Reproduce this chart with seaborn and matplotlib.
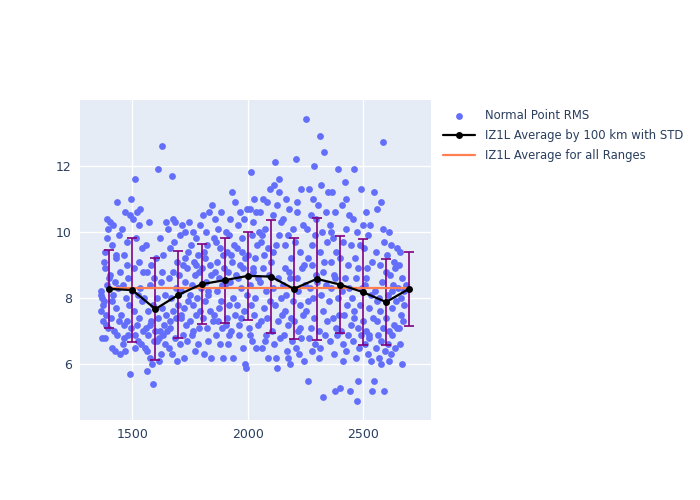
import numpy as np
import pandas as pd
import matplotlib
matplotlib.use('Agg')
import matplotlib.pyplot as plt
import seaborn as sns

# Normal point RMS values (range in km)
x_pts = [
    1362, 1365, 1368, 1370, 1372, 1375, 1378, 1380, 1383, 1385, 1388, 1390, 1392, 1395, 1398, 1366, 1374, 1382, 1386, 1394,
    1402, 1405, 1408, 1410, 1413, 1415, 1418, 1420, 1423, 1425, 1428, 1430, 1433, 1435, 1438, 1440, 1443, 1446, 1448, 1412, 1427,
    1452, 1455, 1458, 1460, 1463, 1465, 1468, 1470, 1473, 1475, 1478, 1480, 1483, 1485, 1488, 1490, 1493, 1495, 1498, 1462, 1476,
    1502, 1505, 1508, 1510, 1513, 1515, 1518, 1520, 1523, 1525, 1528, 1530, 1533, 1535, 1538, 1540, 1543, 1546, 1548, 1512, 1527,
    1552, 1555, 1558, 1560, 1563, 1565, 1568, 1570, 1573, 1575, 1578, 1580, 1583, 1585, 1588, 1590, 1593, 1595, 1598, 1562, 1577,
    1602, 1605, 1608, 1611, 1613, 1615, 1618, 1620, 1623, 1625, 1628, 1629, 1633, 1635, 1638, 1640, 1643, 1646, 1648, 1616, 1627,
    1652, 1655, 1658, 1660, 1663, 1665, 1668, 1670, 1673, 1675, 1678, 1680, 1683, 1685, 1688, 1690, 1693, 1695, 1698, 1662, 1677,
    1702, 1705, 1708, 1710, 1713, 1715, 1718, 1720, 1723, 1725, 1728, 1730, 1733, 1735, 1738, 1740, 1743, 1746, 1748, 1712, 1727,
    1752, 1755, 1758, 1760, 1763, 1765, 1768, 1770, 1773, 1775, 1778, 1780, 1783, 1785, 1788, 1790, 1793, 1795, 1798, 1762, 1777,
    1802, 1805, 1808, 1810, 1813, 1815, 1818, 1820, 1823, 1825, 1828, 1830, 1833, 1835, 1838, 1840, 1843, 1846, 1848, 1812, 1827,
    1852, 1855, 1858, 1860, 1863, 1865, 1868, 1870, 1873, 1875, 1878, 1880, 1883, 1885, 1888, 1890, 1893, 1895, 1898, 1862, 1877,
    1902, 1905, 1908, 1910, 1913, 1915, 1918, 1920, 1923, 1925, 1928, 1930, 1933, 1935, 1938, 1940, 1943, 1946, 1948, 1912, 1927, 1918,
    1952, 1955, 1958, 1960, 1963, 1965, 1968, 1970, 1973, 1975, 1978, 1980, 1983, 1985, 1988, 1990, 1992, 1995, 1998, 1962, 1977,
    2002, 2005, 2008, 2010, 2013, 2015, 2018, 2020, 2023, 2025, 2028, 2030, 2033, 2035, 2038, 2040, 2043, 2046, 2048, 2012, 2027, 2022,
    2052, 2055, 2058, 2060, 2063, 2065, 2068, 2070, 2073, 2075, 2078, 2080, 2083, 2085, 2088, 2090, 2093, 2095, 2098, 2062, 2077,
    2102, 2105, 2108, 2110, 2113, 2115, 2118, 2120, 2123, 2125, 2128, 2130, 2133, 2135, 2138, 2140, 2143, 2146, 2148, 2112, 2127, 2137,
    2152, 2155, 2158, 2160, 2163, 2165, 2168, 2170, 2173, 2175, 2178, 2180, 2183, 2185, 2188, 2190, 2193, 2195, 2198, 2162, 2177,
    2202, 2205, 2208, 2209, 2213, 2215, 2218, 2220, 2223, 2225, 2228, 2230, 2233, 2235, 2238, 2240, 2243, 2246, 2248, 2212, 2227,
    2251, 2255, 2258, 2260, 2263, 2265, 2268, 2270, 2273, 2275, 2278, 2280, 2283, 2285, 2288, 2290, 2293, 2295, 2298, 2262, 2277, 2287,
    2302, 2305, 2308, 2312, 2313, 2315, 2318, 2320, 2323, 2325, 2328, 2329, 2333, 2335, 2338, 2340, 2343, 2346, 2348, 2310, 2327,
    2352, 2355, 2358, 2360, 2363, 2365, 2368, 2370, 2373, 2375, 2377, 2380, 2383, 2385, 2388, 2390, 2393, 2395, 2399, 2362, 2378,
    2402, 2405, 2408, 2410, 2413, 2415, 2418, 2420, 2423, 2425, 2428, 2430, 2433, 2435, 2438, 2440, 2442, 2446, 2448, 2412, 2427,
    2452, 2455, 2458, 2460, 2463, 2465, 2468, 2470, 2472, 2475, 2478, 2480, 2483, 2485, 2488, 2490, 2493, 2495, 2498, 2462, 2477,
    2502, 2505, 2508, 2510, 2513, 2515, 2518, 2520, 2523, 2525, 2528, 2530, 2533, 2535, 2537, 2540, 2543, 2546, 2549, 2512, 2527,
    2552, 2555, 2558, 2560, 2563, 2565, 2568, 2570, 2573, 2575, 2578, 2580, 2583, 2585, 2588, 2590, 2593, 2595, 2598, 2562, 2577, 2587,
    2602, 2605, 2608, 2610, 2613, 2615, 2618, 2620, 2623, 2625, 2628, 2630, 2633, 2635, 2638, 2640, 2643, 2646, 2648, 2612, 2627,
    2652, 2655, 2658, 2660, 2663, 2665, 2668, 2670, 2673, 2676, 2680, 2685, 2662,
]
y_pts = [
    7.6, 8.2, 6.8, 8.0, 7.3, 9.1, 7.9, 8.9, 6.8, 7.5, 9.8, 8.4, 10.4, 7.1, 8.6, 8.1, 7.8, 9.4, 7.2, 10.1,
    8.7, 10.3, 7.4, 9.6, 6.5, 8.1, 10.2, 7.0, 8.5, 6.4, 9.2, 7.7, 10.9, 6.9, 8.3, 9.9, 7.3, 8.8, 6.3, 7.9, 9.3,
    7.5, 10.1, 6.6, 8.4, 9.3, 7.2, 6.4, 10.6, 8.0, 7.3, 9.7, 6.9, 8.6, 7.8, 10.5, 5.7, 7.1, 11.0, 8.2, 6.8, 9.0,
    10.4, 7.6, 8.9, 11.6, 6.9, 9.8, 7.2, 10.6, 8.1, 6.7, 9.1, 7.4, 10.7, 8.3, 6.6, 7.9, 9.5, 7.0, 8.8, 6.5, 10.2,
    8.0, 6.5, 9.6, 7.1, 5.8, 8.8, 6.9, 7.6, 10.3, 6.2, 8.4, 7.3, 9.0, 6.0, 7.8, 5.4, 6.7, 8.6, 7.0, 6.4, 7.2,
    9.2, 6.7, 8.0, 11.9, 7.4, 6.1, 9.8, 7.0, 8.5, 6.3, 7.7, 12.6, 6.9, 9.3, 7.2, 8.1, 6.6, 10.3, 7.5, 6.8, 8.8,
    7.0, 10.1, 8.6, 6.5, 9.5, 7.3, 8.0, 11.7, 6.3, 8.8, 7.6, 9.7, 6.8, 10.3, 7.4, 8.3, 6.1, 9.1, 7.8, 7.1, 10.4,
    8.7, 6.6, 9.9, 7.4, 8.2, 10.2, 6.9, 9.0, 7.7, 6.2, 8.5, 10.0, 7.2, 8.9, 6.7, 9.4, 7.9, 10.3, 8.1, 7.5, 9.2,
    7.3, 9.6, 8.4, 6.9, 10.0, 7.8, 9.1, 6.4, 8.7, 7.5, 9.8, 8.0, 6.6, 9.3, 7.1, 8.8, 10.2, 7.6, 8.3, 7.0, 9.0,
    8.9, 7.4, 10.5, 6.3, 9.2, 7.9, 8.5, 10.0, 7.1, 9.6, 6.7, 8.2, 10.6, 7.6, 9.0, 6.2, 8.7, 10.8, 7.3, 9.4, 8.1,
    9.8, 7.5, 8.8, 10.4, 6.9, 9.1, 8.2, 7.3, 10.1, 8.6, 6.6, 9.5, 7.9, 10.6, 8.4, 7.1, 9.3, 6.2, 8.9, 9.7, 7.7,
    8.4, 10.0, 7.2, 9.4, 8.8, 6.6, 9.9, 7.8, 10.4, 8.5, 7.0, 9.1, 11.2, 8.0, 6.2, 9.6, 7.5, 10.9, 8.7, 7.4, 9.3, 6.9,
    9.5, 7.8, 10.2, 8.6, 6.9, 9.0, 10.6, 7.4, 8.3, 9.8, 6.5, 8.9, 10.4, 7.6, 9.2, 6.0, 5.9, 8.1, 10.7, 7.2, 9.4,
    9.3, 7.1, 10.7, 8.4, 11.8, 7.8, 9.9, 6.7, 8.8, 10.3, 7.5, 9.2, 8.0, 10.6, 6.5, 9.6, 7.2, 8.6, 10.0, 6.9, 11.0, 8.9,
    8.5, 10.6, 7.3, 9.7, 6.5, 8.9, 11.0, 7.7, 9.3, 10.1, 6.9, 8.2, 10.9, 7.4, 9.5, 6.2, 8.7, 11.3, 7.9, 9.9, 6.7,
    9.1, 7.0, 10.5, 8.3, 11.4, 6.6, 12.1, 7.8, 9.6, 6.2, 10.8, 8.6, 7.3, 11.2, 9.9, 6.8, 8.0, 10.3, 7.5, 9.4, 5.9, 11.6,
    8.4, 10.4, 6.9, 9.6, 7.6, 11.0, 8.1, 6.4, 9.9, 7.2, 8.8, 10.7, 6.0, 8.6, 7.4, 9.2, 6.7, 10.1, 7.9, 8.9, 6.2,
    7.3, 9.7, 6.5, 12.2, 8.6, 10.9, 7.0, 8.2, 6.3, 9.4, 7.8, 11.3, 6.8, 8.9, 10.2, 7.5, 9.0, 6.1, 8.4, 10.6, 7.1,
    13.4, 7.6, 10.1, 5.5, 9.2, 6.8, 11.3, 8.3, 7.1, 10.5, 6.4, 9.6, 8.0, 11.0, 7.4, 9.9, 6.6, 8.7, 10.4, 7.9, 9.0, 12.0,
    8.5, 10.8, 7.0, 12.9, 9.4, 6.5, 11.4, 8.1, 10.0, 5.0, 7.6, 12.4, 9.1, 6.9, 10.6, 8.4, 7.3, 9.7, 11.2, 6.2, 8.8,
    7.9, 10.2, 6.7, 9.1, 8.3, 11.2, 7.4, 9.8, 6.3, 8.7, 5.2, 10.6, 7.1, 9.4, 6.9, 11.9, 8.0, 7.5, 5.3, 10.0, 8.6,
    9.2, 7.0, 10.8, 8.2, 6.6, 9.7, 7.5, 11.5, 8.6, 6.4, 10.1, 7.8, 9.0, 6.9, 10.5, 8.3, 5.2, 7.2, 9.6, 6.1, 11.0,
    8.0, 10.4, 6.7, 11.9, 7.4, 9.2, 6.2, 8.6, 4.9, 10.0, 7.1, 8.9, 6.5, 9.6, 7.8, 11.3, 6.9, 8.3, 10.2, 7.6, 5.5,
    7.3, 9.5, 6.6, 8.4, 10.6, 7.0, 8.9, 6.3, 9.9, 7.7, 6.8, 10.2, 8.1, 6.1, 5.2, 9.1, 7.4, 11.2, 5.5, 8.6, 6.9,
    8.2, 6.5, 9.4, 7.3, 10.7, 6.9, 8.0, 6.2, 9.0, 7.6, 10.9, 6.7, 8.5, 12.7, 7.1, 9.7, 5.2, 6.4, 8.8, 7.9, 6.0, 10.1,
    7.4, 9.3, 6.6, 8.1, 10.0, 7.0, 8.7, 6.3, 9.6, 7.7, 6.9, 8.4, 9.1, 7.2, 6.5, 8.9, 7.9, 9.5, 7.1, 6.1, 8.2,
    8.3, 7.1, 9.0, 6.6, 8.0, 7.5, 6.0, 8.6, 7.3, 8.2, 7.8, 8.4, 9.4,
]

# averages by 100 km bins with standard deviation
bin_range = [1400, 1500, 1600, 1700, 1800, 1900, 2000, 2100, 2200, 2300, 2400, 2500, 2600, 2700]
bin_mean = [8.28, 8.24, 7.67, 8.10, 8.42, 8.54, 8.67, 8.65, 8.28, 8.58, 8.41, 8.18, 7.88, 8.28]
bin_std = [1.17, 1.57, 1.53, 1.31, 1.21, 1.28, 1.34, 1.71, 1.52, 1.84, 1.45, 1.60, 1.30, 1.11]

overall_mean = 8.30

pts = pd.DataFrame({'range': x_pts, 'rms': y_pts})
bins = pd.DataFrame({'range': bin_range, 'mean': bin_mean, 'std': bin_std})
flat = pd.DataFrame({'range': [bin_range[0], bin_range[-1]], 'mean': [overall_mean, overall_mean]})

sns.set_theme(style='darkgrid', rc={
    'axes.facecolor': '#E5ECF6',
    'grid.color': 'white',
    'grid.linewidth': 1.0,
    'axes.edgecolor': '#E5ECF6',
})
plt.rcParams['font.family'] = ['DejaVu Sans']
text_col = '#2a3f5f'

fig = plt.figure(figsize=(7, 5), dpi=100)
ax = fig.add_axes([80 / 700, 80 / 500, 351 / 700, 320 / 500])

sns.scatterplot(data=pts, x='range', y='rms', color='#636EFA', s=24, linewidth=0,
                ax=ax, label='Normal Point RMS', zorder=2)
ax.errorbar(bins['range'], bins['mean'], yerr=bins['std'], fmt='none',
            ecolor='purple', elinewidth=1.2, capsize=3.5, capthick=1.2, zorder=3)
sns.lineplot(data=bins, x='range', y='mean', color='black', marker='o', markersize=5,
             markeredgewidth=0, linewidth=1.6, ax=ax, zorder=4,
             label='IZ1L Average by 100 km with STD')
sns.lineplot(data=flat, x='range', y='mean', color='#FF7F50', linewidth=1.6, ax=ax, zorder=3.5,
             label='IZ1L Average for all Ranges')

ax.set_xlim(1273, 2795)
ax.set_ylim(4.32, 13.98)
ax.set_xticks([1500, 2000, 2500])
ax.set_yticks([6, 8, 10, 12])
ax.set_xlabel('')
ax.set_ylabel('')
ax.tick_params(axis='both', length=0, labelsize=9, labelcolor=text_col, pad=6)
for s in ax.spines.values():
    s.set_visible(False)

handles, labels = ax.get_legend_handles_labels()
ax.get_legend().remove()
fig.legend(handles, labels, loc='upper left', bbox_to_anchor=(438 / 700, 1 - 104 / 500),
           frameon=False, fontsize=8.4, labelcolor=text_col, handlelength=2.8,
           borderaxespad=0, labelspacing=0.6)

fig.savefig('out.png', dpi=100)
plt.close(fig)
